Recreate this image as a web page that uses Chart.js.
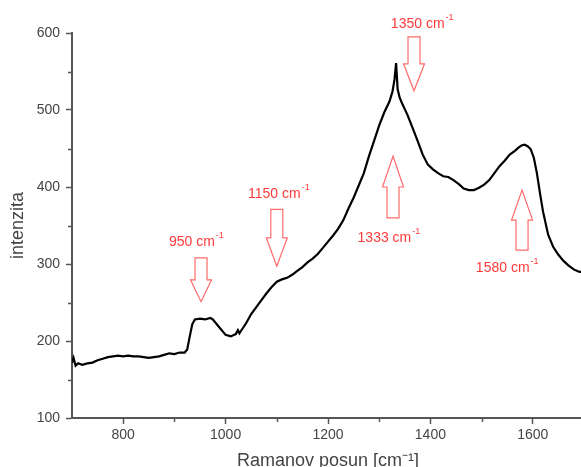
<!DOCTYPE html>
<html>
<head>
<meta charset="utf-8">
<script src="https://cdn.jsdelivr.net/npm/chart.js@4"></script>
<style>
  html, body { margin: 0; padding: 0; background: #fff; overflow: hidden; }
  #wrap { width: 581px; height: 467px; overflow: hidden; position: relative; }
  canvas { position: absolute; left: 0; top: 0; }
</style>
</head>
<body>
<div id="wrap"><canvas id="ramanChart" width="600" height="476"></canvas></div>
<script>
'use strict';

// Raman spectrum
var ramanShift = [700, 703, 707, 712, 720, 730, 740, 750, 760, 770, 780, 790, 800, 810, 820, 830, 840, 850,
  860, 870, 880, 890, 900, 910, 920, 925, 930, 935, 940, 950, 960, 970, 975, 980, 990, 1000, 1010,
  1020, 1024, 1027, 1030, 1040, 1050, 1060, 1070, 1080, 1090, 1100, 1110, 1120, 1130, 1140, 1150,
  1160, 1170, 1180, 1190, 1200, 1210, 1220, 1230, 1240, 1250, 1260, 1270, 1280, 1290, 1300, 1310,
  1320, 1326, 1330, 1333, 1336, 1340, 1345, 1355, 1365, 1375, 1385, 1395, 1405, 1415, 1425, 1435,
  1445, 1455, 1465, 1475, 1485, 1495, 1505, 1515, 1525, 1535, 1545, 1555, 1565, 1572, 1578, 1584,
  1590, 1596, 1602, 1608, 1614, 1620, 1630, 1640, 1650, 1660, 1670, 1680, 1690, 1700];
var intensity = [172, 178, 168, 171, 169, 171, 172, 175, 177, 179, 180, 181, 180, 181, 180, 180, 179, 178,
  179, 180, 182, 184, 183, 185, 185, 189, 206, 222, 228, 229, 228, 230, 228, 224, 216, 208, 206,
  209, 214, 210, 213, 223, 235, 244, 253, 262, 270, 277, 280, 282, 286, 291, 296,
  302, 307, 313, 321, 329, 337, 346, 357, 372, 386, 402, 418, 440, 460, 480, 497,
  511, 524, 540, 561, 527, 516, 508, 494, 477, 460, 442, 429, 423, 418, 414, 413,
  409, 404, 398, 396, 396, 399, 403, 409, 418, 427, 434, 442, 447, 451, 454, 455,
  453, 449, 438, 418, 392, 368, 338, 322, 312, 304, 298, 293, 290, 289];

var xTicks = [800, 1000, 1200, 1400, 1600];
var xMinorTicks = [900, 1100, 1300, 1500];
var yTicks = [100, 200, 300, 400, 500, 600];
var yMinorTicks = [150, 250, 350, 450, 550];

// peak annotations (arrow shaft from tail to tip, in data units)
var peakNames = ['950', '1150', '1350', '1333', '1580'];
var arrowX = [952, 1100, 1368, 1327, 1579];
var arrowTail = [308, 371, 595, 360, 318];
var arrowTip = [251, 297, 525, 440, 396];
var labelX = [943, 1104, 1384, 1319, 1550];
var labelY = [329, 391, 612, 334, 295];

var points = ramanShift.map(function (x, i) { return { x: x, y: intensity[i] }; });

var axisColor = '#555';
var fontFamily = '"Liberation Sans", Arial, sans-serif';

var minorTicks = {
  id: 'minorTicks',
  afterDraw: function (chart) {
    var ctx = chart.ctx, area = chart.chartArea;
    var xs = chart.scales.x, ys = chart.scales.y;
    ctx.save();
    ctx.strokeStyle = axisColor;
    ctx.lineWidth = 1.5;
    ctx.beginPath();
    xMinorTicks.forEach(function (v) {
      var px = Math.round(xs.getPixelForValue(v)) + 0.5;
      ctx.moveTo(px, area.bottom);
      ctx.lineTo(px, area.bottom + 4);
    });
    yMinorTicks.forEach(function (v) {
      var py = Math.round(ys.getPixelForValue(v)) + 0.5;
      ctx.moveTo(area.left - 4, py);
      ctx.lineTo(area.left, py);
    });
    ctx.stroke();
    ctx.restore();
  }
};

var peakArrows = {
  id: 'peakArrows',
  afterDraw: function (chart) {
    var ctx = chart.ctx;
    var xs = chart.scales.x, ys = chart.scales.y;
    ctx.save();
    peakNames.forEach(function (name, i) {
      var cx = xs.getPixelForValue(arrowX[i]);
      var tail = ys.getPixelForValue(arrowTail[i]);
      var tip = ys.getPixelForValue(arrowTip[i]);
      var len = tip - tail;
      var headStart = tail + len * 0.5;
      var sw = 6, hw = 10.5;
      ctx.beginPath();
      ctx.moveTo(cx - sw, tail);
      ctx.lineTo(cx + sw, tail);
      ctx.lineTo(cx + sw, headStart);
      ctx.lineTo(cx + hw, headStart);
      ctx.lineTo(cx, tip);
      ctx.lineTo(cx - hw, headStart);
      ctx.lineTo(cx - sw, headStart);
      ctx.closePath();
      ctx.strokeStyle = '#ff6b6b';
      ctx.lineWidth = 1.2;
      ctx.stroke();

      // label with superscript -1
      var main = name + ' cm';
      var sup = '-1';
      ctx.font = '14px ' + fontFamily;
      var w1 = ctx.measureText(main).width;
      ctx.font = '9px ' + fontFamily;
      var w2 = ctx.measureText(sup).width;
      var lx = xs.getPixelForValue(labelX[i]) - (w1 + w2 + 1) / 2;
      var ly = ys.getPixelForValue(labelY[i]);
      ctx.fillStyle = '#ff3a3a';
      ctx.textBaseline = 'middle';
      ctx.textAlign = 'left';
      ctx.font = '14px ' + fontFamily;
      ctx.fillText(main, lx, ly);
      ctx.font = '9px ' + fontFamily;
      ctx.fillText(sup, lx + w1 + 1, ly - 6);
    });
    ctx.restore();
  }
};

function plainTick(v) { return String(v); }

var ramanChart = new Chart('ramanChart', {
  type: 'scatter',
  data: {
    datasets: [{
      data: points,
      showLine: true,
      borderColor: '#000',
      borderWidth: 2.2,
      pointRadius: 0,
      tension: 0
    }]
  },
  options: {
    responsive: false,
    animation: false,
    layout: { padding: { top: 33, right: 16, left: 0, bottom: 0 } },
    plugins: {
      legend: { display: false },
      tooltip: { enabled: false }
    },
    scales: {
      x: {
        type: 'linear',
        min: 700,
        max: 1700,
        afterBuildTicks: function (scale) { scale.ticks = xTicks.map(function (v) { return { value: v }; }); },
        afterFit: function (scale) { scale.height = 58; },
        grid: { drawOnChartArea: false, drawTicks: true, tickLength: 6, tickColor: axisColor, tickWidth: 1.5 },
        border: { display: true, color: axisColor, width: 2 },
        ticks: { color: '#444', padding: 3, callback: plainTick, font: { size: 14, family: fontFamily } },
        title: { display: true, text: 'Ramanov posun [cm⁻¹]', color: '#444', padding: { top: 10 }, font: { size: 18, family: fontFamily } }
      },
      y: {
        type: 'linear',
        min: 100,
        max: 600,
        afterBuildTicks: function (scale) { scale.ticks = yTicks.map(function (v) { return { value: v }; }); },
        afterFit: function (scale) { scale.width = 72; },
        grid: { drawOnChartArea: false, drawTicks: true, tickLength: 6, tickColor: axisColor, tickWidth: 1.5 },
        border: { display: true, color: axisColor, width: 2 },
        ticks: { color: '#444', padding: 6, callback: plainTick, font: { size: 14, family: fontFamily } },
        title: { display: true, text: 'intenzita', color: '#444', padding: { top: 7 }, font: { size: 18, family: fontFamily } }
      }
    }
  },
  plugins: [minorTicks, peakArrows]
});
</script>
</body>
</html>
